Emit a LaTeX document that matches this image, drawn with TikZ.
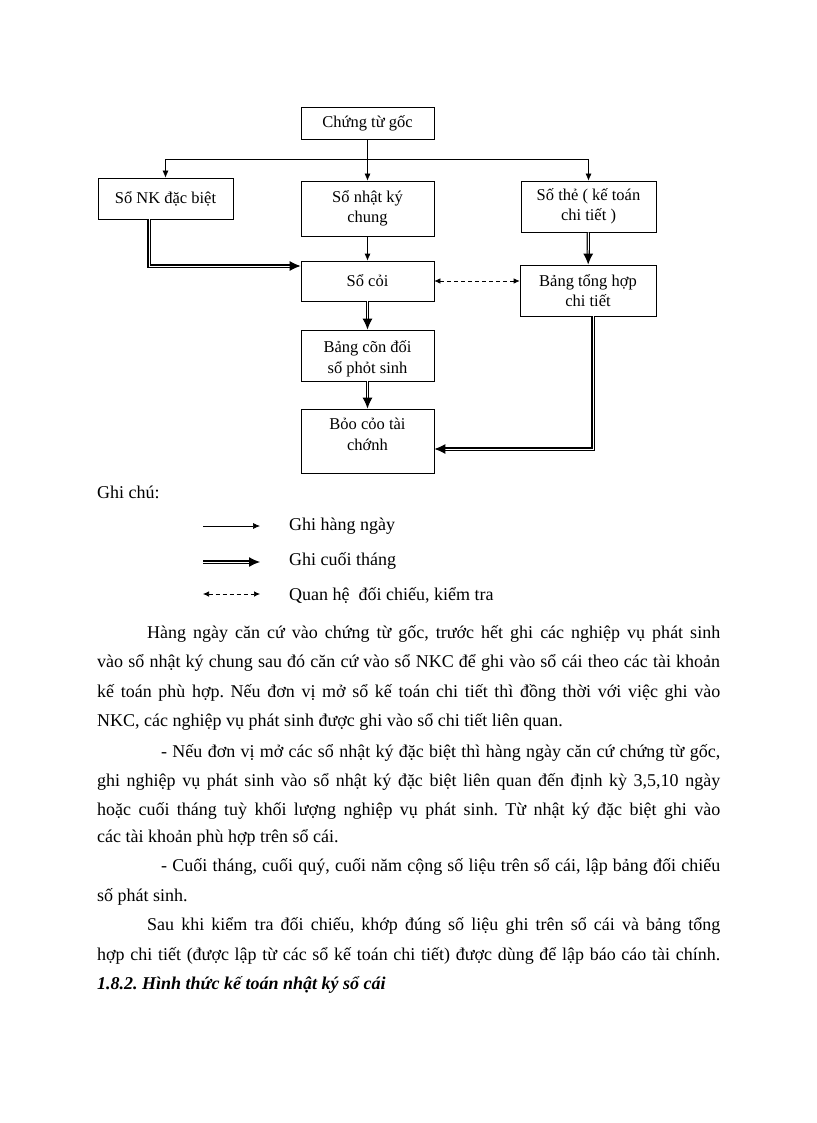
\documentclass[tikz,border=0pt]{standalone}
\usepackage{fontspec}
\setmainfont{Liberation Serif}
\usepackage{tikz}
\usetikzlibrary{arrows.meta,positioning,calc}
\tikzstyle{daily} = [line width=0.7pt, -{Latex[length=7pt,width=6pt]}]
\tikzstyle{monthly} = [double, line width=1.1pt, double distance=1pt, -{Latex[length=11pt,width=10pt]}]
\tikzstyle{check} = [line width=0.7pt, dash pattern=on 4pt off 3pt, {Latex[length=6pt,width=5.5pt]}-{Latex[length=6pt,width=5.5pt]}]
\frenchspacing

\begin{document}
\begin{tikzpicture}[x=1pt, y=-1pt,
  box/.style = {draw, line width=0.7pt, minimum width=133pt, align=center,
    inner sep=2pt, font=\fontsize{16.5}{20}\selectfont},
  boxtext/.style = {align=center, inner sep=0pt, font=\fontsize{16.5}{21}\selectfont},
  body/.style = {anchor=base west, inner sep=0pt, font=\fontsize{18}{20}\selectfont}]
  \useasboundingbox[fill=white] (0,0) rectangle (816,1123);

  % so do
  \node[box, minimum height=32pt] (goc) at (367.5,123) {Chứng từ gốc};
  \node[box, minimum width=135pt, minimum height=41pt] (nk) at (165.5,198.5) {Sổ NK đặc biệt};
  \node[box, minimum height=55pt] (chung) at (367.5,208.5) {Sổ nhật ký\\chung};
  \node[box, minimum width=135pt, minimum height=51pt] (the) at (588.5,206.5) {Số thẻ ( kế toán\\chi tiết )};
  \node[box, minimum height=40pt] (cai) at (367.5,281) {Sổ cỏi};
  \node[box, minimum width=136pt, minimum height=51pt] (tonghop) at (588,290.5) {Bảng  tổng hợp\\chi tiết};
  \node[box, minimum height=51pt] (candoi) at (367.5,355.5) {};
  \node[boxtext, below=11pt of candoi.north] (candoitext) {Bảng cõn đối\\sổ phỏt sinh};
  \node[box, minimum height=64pt] (baocao) at (367.5,441) {};
  \node[boxtext, below=9pt of baocao.north] (baocaotext) {Bỏo cỏo tài\\chớnh};

  \coordinate (bus) at ($(goc.south)+(0,20)$);
  \draw[daily] (goc) -- (chung);
  \draw[daily] (bus) -| (nk);
  \draw[daily] (bus) -| (the);
  \draw[daily] (chung) -- (cai);
  \draw[monthly] ([xshift=-16.5pt]nk.south) |- ([yshift=15pt]cai.west);
  \draw[monthly] (cai) -- (candoi);
  \draw[monthly] (candoi) -- (baocao);
  \draw[monthly] (the) -- (tonghop);
  \draw[monthly] ([xshift=5pt]tonghop.south) |- ([yshift=-8pt]baocao.east);
  \draw[check] (cai.east) -- (cai.east -| tonghop.west);

  % ghi chu
  \node[body] (ghichu) at (97,498) {Ghi chú:};
  \coordinate (d1) at (203,526); \coordinate (d2) at (260,526);
  \coordinate (m1) at (203,562); \coordinate (m2) at (260,562);
  \coordinate (c1) at (203,594); \coordinate (c2) at (260,594);
  \draw[daily] (d1) -- (d2);
  \draw[monthly] (m1) -- (m2);
  \draw[check] (c1) -- (c2);
  \node[body] (lgdaily) at (289,530) {Ghi hàng ngày};
  \node[body] (lgmonthly) at (289,565) {Ghi cuối tháng};
  \node[body] (lgcheck) at (289,600) {Quan hệ\ \ đối chiếu, kiểm tra};

  % doan van
  \node[body] (p1) at (147,638) {\makebox[573pt][s]{Hàng ngày căn cứ vào chứng từ gốc, trước hết ghi các nghiệp vụ phát sinh}};
  \node[body] (p2) at (97,667) {\makebox[623pt][s]{vào sổ nhật ký chung sau đó căn cứ vào sổ NKC để ghi vào sổ cái theo các tài khoản}};
  \node[body] (p3) at (97,697) {\makebox[623pt][s]{kế toán phù hợp. Nếu đơn vị mở sổ kế toán chi tiết thì đồng thời với việc ghi vào}};
  \node[body] (p4) at (97,726) {NKC, các nghiệp vụ phát sinh được ghi vào sổ chi tiết liên quan.};
  \node[body] (p5) at (161,757) {\makebox[559pt][s]{- Nếu đơn vị mở các sổ nhật ký đặc biệt thì hàng ngày căn cứ chứng từ gốc,}};
  \node[body] (p6) at (97,786) {\makebox[623pt][s]{ghi nghiệp vụ phát sinh vào sổ nhật ký đặc biệt liên quan đến định kỳ 3,5,10 ngày}};
  \node[body] (p7) at (97,815) {\makebox[623pt][s]{hoặc cuối tháng tuỳ khối lượng nghiệp vụ phát sinh. Từ nhật ký đặc biệt ghi vào}};
  \node[body] (p8) at (97,842) {các tài khoản phù hợp trên sổ cái.};
  \node[body] (p9) at (161,871) {\makebox[559pt][s]{- Cuối tháng, cuối quý, cuối năm cộng số liệu trên sổ cái, lập bảng đối chiếu}};
  \node[body] (p10) at (97,901) {số phát sinh.};
  \node[body] (p11) at (147,930) {\makebox[573pt][s]{Sau khi kiểm tra đối chiếu, khớp đúng số liệu ghi trên sổ cái và bảng tổng}};
  \node[body] (p12) at (97,960) {\makebox[623pt][s]{hợp chi tiết (được lập từ các sổ kế toán chi tiết) được dùng để lập báo cáo tài chính.}};
  \node[body, font=\fontsize{18}{20}\selectfont\bfseries\itshape] (muc) at (97,989) {1.8.2. Hình thức kế toán nhật ký sổ cái};
\end{tikzpicture}
\end{document}
